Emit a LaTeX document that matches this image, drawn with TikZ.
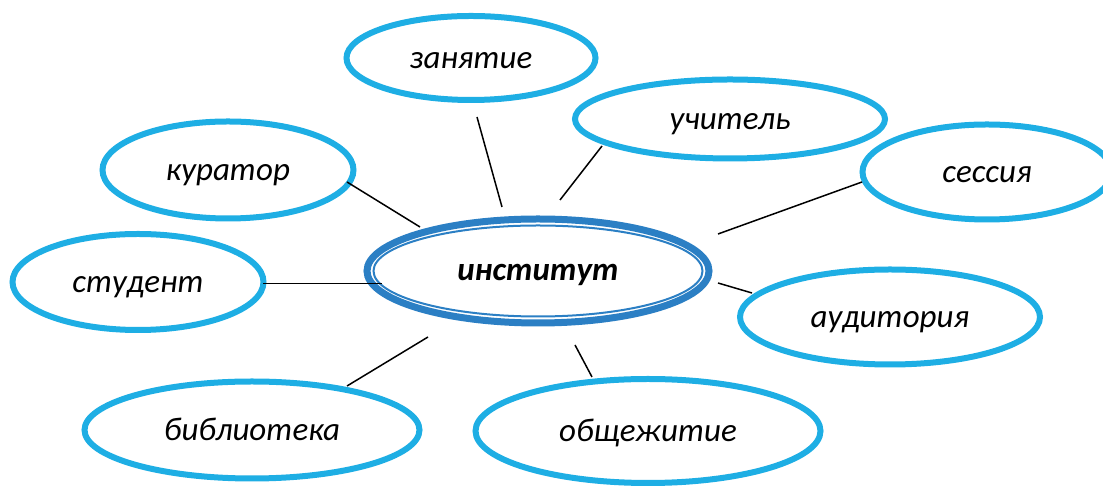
\documentclass[tikz,border=0pt]{standalone}
\usepackage{fontspec}
\setmainfont{Carlito}
\usetikzlibrary{shapes.geometric}
\definecolor{lb}{RGB}{30,174,228}
\definecolor{db}{RGB}{43,127,196}
\begin{document}
\begin{tikzpicture}[x=0.5pt,y=-0.5pt,
  bub/.style={ellipse, draw=lb, line width=3pt, inner sep=0pt, fill=white,
    text height=10.5pt, text depth=0pt,
    font=\fontsize{16.5}{20}\selectfont\itshape},
  conn/.style={draw=black, line width=0.75pt}]
\useasboundingbox (0,0) rectangle (1103,490);
\clip (0,0) rectangle (1103,490);
% outer ellipses
\node[bub, minimum width=124.5pt, minimum height=42pt] (zan) at (471,58) {занятие};
\node[bub, minimum width=155pt, minimum height=39.5pt] (uch) at (730,119) {учитель};
\node[bub, minimum width=125.5pt, minimum height=48.5pt] (kur) at (228,170) {куратор};
\node[bub, minimum width=124.5pt, minimum height=47.5pt] (ses) at (987,172) {сессия};
\node[bub, minimum width=125.5pt, minimum height=48pt] (stu) at (138,282) {студент};
\node[bub, minimum width=150pt, minimum height=47.5pt] (aud) at (890,317) {аудитория};
\node[bub, minimum width=167.5pt, minimum height=48.5pt] (bib) at (252,430) {библиотека};
\node[bub, minimum width=172.5pt, minimum height=52pt] (obs) at (648,431) {общежитие};
% central ellipse
\node[ellipse, draw=db, line width=3.5pt, inner sep=0pt, minimum width=171pt, minimum height=52pt,
  text height=9.7pt, text depth=0pt,
  font=\fontsize{16.5}{20}\selectfont\bfseries\itshape] (ins) at (538,271) {институт};
\node[ellipse, draw=db, line width=1pt, inner sep=0pt, minimum width=164.5pt, minimum height=45.5pt] (insin) at (538,271) {};
% connector end points
\coordinate (kurA) at (347,182); \coordinate (kurB) at (420,227);
\coordinate (stuA) at (263,283.5); \coordinate (stuB) at (382,283.5);
\coordinate (zanA) at (477,117); \coordinate (zanB) at (502,207);
\coordinate (uchA) at (602,146); \coordinate (uchB) at (560,200);
\coordinate (sesA) at (862,182); \coordinate (sesB) at (718,234);
\coordinate (audA) at (752,293); \coordinate (audB) at (718,283);
\coordinate (bibA) at (347,386); \coordinate (bibB) at (428,337);
\coordinate (obsA) at (592,377); \coordinate (obsB) at (575,345);
\draw[conn] (kurA) -- (kurB);
\draw[conn] (stuA) -- (stuB);
\draw[conn] (zanA) -- (zanB);
\draw[conn] (uchA) -- (uchB);
\draw[conn] (sesA) -- (sesB);
\draw[conn] (audA) -- (audB);
\draw[conn] (bibA) -- (bibB);
\draw[conn] (obsA) -- (obsB);
\end{tikzpicture}
\end{document}
